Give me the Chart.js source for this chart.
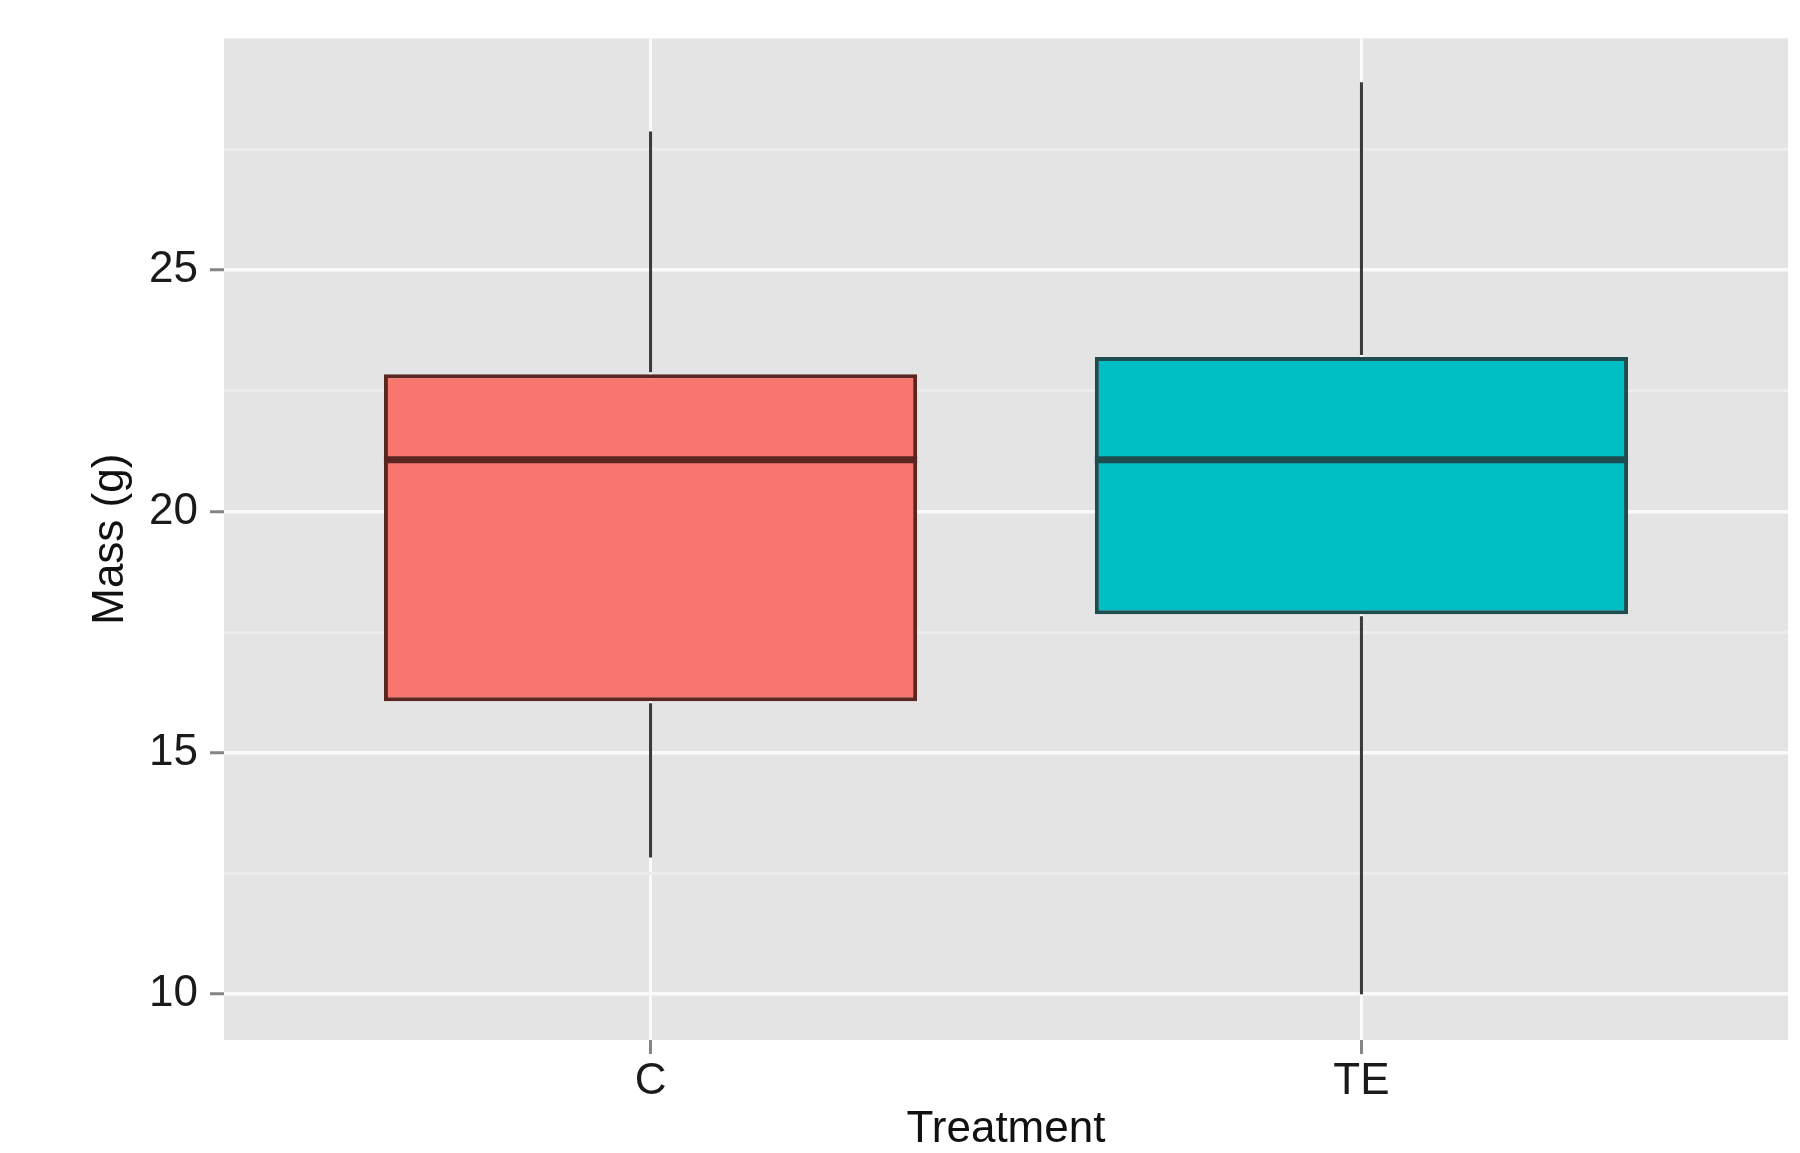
<!DOCTYPE html>
<html>
<head>
<meta charset="utf-8">
<title>Mass by treatment</title>
<script src="https://cdn.jsdelivr.net/npm/chart.js@4.4.1/dist/chart.umd.min.js"></script>
<style>
  html, body { margin: 0; padding: 0; background: #fff; overflow: hidden; }
  #wrap { width: 1800px; height: 1153px; position: relative; }
</style>
</head>
<body>
<div id="wrap"><canvas id="boxChart"></canvas></div>
<script>
// box plot values
const categories = ["C", "TE"]
const lowerWhisker = [12.83, 10.0]
const lowerQuartile = [16.07, 17.87]
const medians = [21.07, 21.07]
const upperQuartile = [22.84, 23.2]
const upperWhisker = [27.87, 28.89]
const yTicks = [10, 12.5, 15, 17.5, 20, 22.5, 25, 27.5]

const boxColors = ["#F8766D", "#00BFC4"]
const edgeColors = ["#5a2622", "#1e4d50"]

Chart.defaults.font.family = "'Liberation Sans', Arial, sans-serif"

// panel background + whiskers + median lines, all placed through the scales
const boxplotPlugin = {
  id: "boxplot",
  beforeDraw(chart) {
    const { ctx, chartArea: a } = chart
    ctx.save()
    ctx.fillStyle = "#E4E4E4"
    ctx.fillRect(a.left, a.top, a.right - a.left, a.bottom - a.top)
    ctx.restore()
  },
  afterDatasetsDraw(chart) {
    const { ctx, scales: { y } } = chart
    const bars = chart.getDatasetMeta(0).data
    bars.forEach((bar, i) => {
      ctx.save()
      ctx.strokeStyle = "#3a3a3a"
      ctx.lineWidth = 3
      ctx.beginPath()
      ctx.moveTo(bar.x, y.getPixelForValue(upperQuartile[i]) - 2)
      ctx.lineTo(bar.x, y.getPixelForValue(upperWhisker[i]))
      ctx.moveTo(bar.x, y.getPixelForValue(lowerQuartile[i]) + 2)
      ctx.lineTo(bar.x, y.getPixelForValue(lowerWhisker[i]))
      ctx.stroke()

      const ym = y.getPixelForValue(medians[i])
      ctx.strokeStyle = edgeColors[i]
      ctx.lineWidth = 7
      ctx.beginPath()
      ctx.moveTo(bar.x - bar.width / 2, ym)
      ctx.lineTo(bar.x + bar.width / 2, ym)
      ctx.stroke()
      ctx.restore()
    })
  }
}

const isMajor = (v) => Math.abs(v % 5) < 1e-6

new Chart(document.getElementById("boxChart"), {
  type: "bar",
  data: {
    datasets: [
      {
        data: categories.map((c, i) => ({ x: i + 1, y: [lowerQuartile[i], upperQuartile[i]] })),
        backgroundColor: boxColors,
        borderColor: edgeColors,
        borderWidth: 4,
        borderSkipped: false,
        barPercentage: 0.75,
        categoryPercentage: 1.0,
      },
    ],
  },
  options: {
    responsive: true,
    maintainAspectRatio: false,
    animation: false,
    layout: { padding: { top: 36, right: 12, left: 0, bottom: 0 } },
    plugins: {
      legend: { display: false },
      tooltip: { enabled: false },
    },
    scales: {
      x: {
        type: "linear",
        min: 0.4,
        max: 2.6,
        offset: false,
        afterBuildTicks: (scale) => {
          scale.ticks = categories.map((c, i) => ({ value: i + 1 }))
        },
        afterFit: (scale) => { scale.height = 113 },
        ticks: {
          color: "#1a1a1a",
          font: { size: 44 },
          padding: 1,
          callback: (v) => categories[v - 1],
        },
        grid: {
          offset: false,
          color: "#FAFAFA",
          lineWidth: 3,
          tickColor: "#858585",
          tickLength: 14,
          tickWidth: 3,
        },
        border: { display: false },
        title: {
          display: true,
          text: "Treatment",
          color: "#111",
          font: { size: 44, lineHeight: 1 },
          padding: { top: 0, bottom: 1 },
        },
      },
      y: {
        min: 9.05,
        max: 29.8,
        afterBuildTicks: (scale) => {
          scale.ticks = yTicks.map((v) => ({ value: v }))
        },
        afterFit: (scale) => { scale.width = 224 },
        ticks: {
          color: "#1a1a1a",
          font: { size: 44 },
          padding: 12,
          callback: (v) => (isMajor(v) ? v : ""),
        },
        grid: {
          color: (c) => (isMajor(c.tick.value) ? "#FAFAFA" : "#ECECEC"),
          lineWidth: (c) => (isMajor(c.tick.value) ? 3.5 : 3),
          tickColor: (c) => (isMajor(c.tick.value) ? "#858585" : "rgba(0,0,0,0)"),
          tickLength: 14,
          tickWidth: 3,
        },
        border: { display: false },
        title: {
          display: true,
          text: "Mass (g)",
          color: "#111",
          font: { size: 44, lineHeight: 1 },
          padding: { top: 89, bottom: 0 },
        },
      },
    },
  },
  plugins: [boxplotPlugin],
})
</script>
</body>
</html>
